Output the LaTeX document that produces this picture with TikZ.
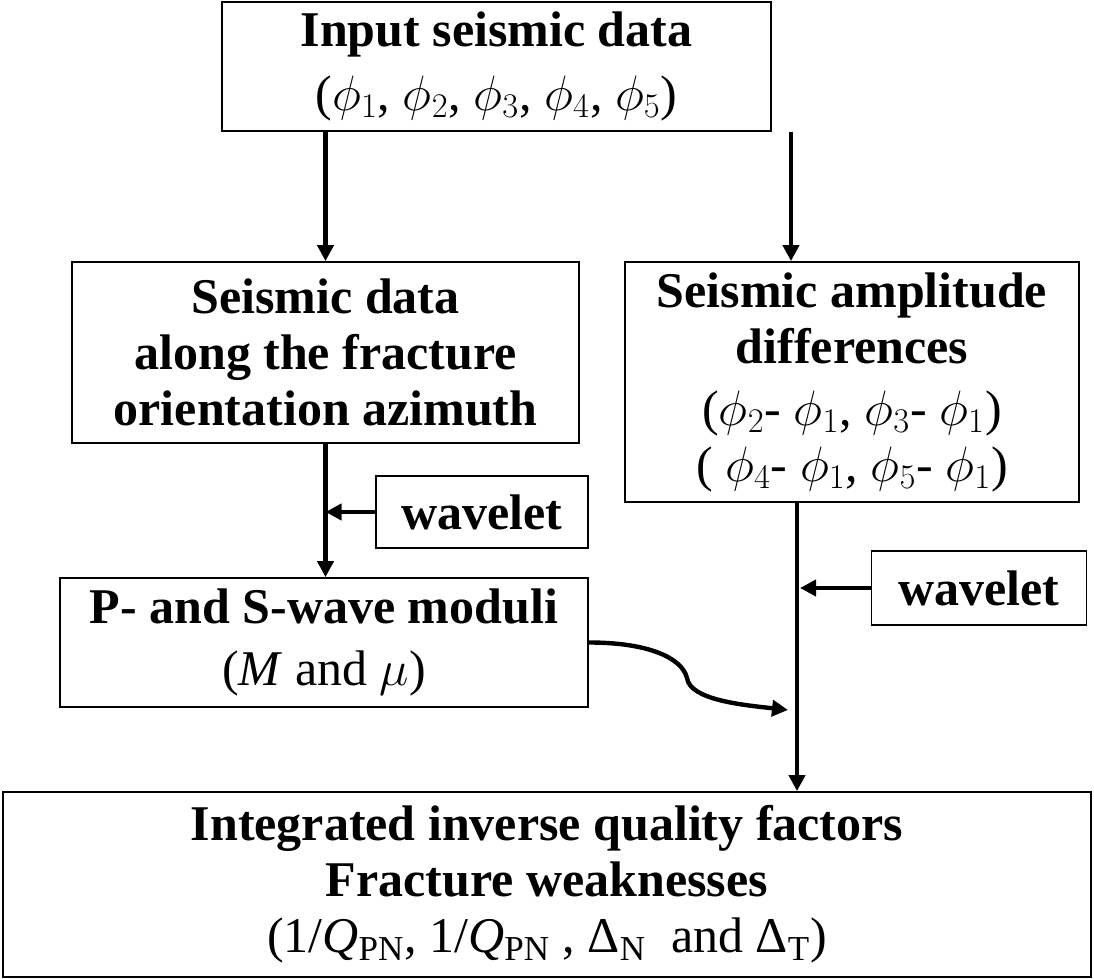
\documentclass[tikz,border=0pt]{standalone}
\usepackage{fontspec}
\setmainfont{Liberation Serif}
\usetikzlibrary{arrows.meta}

\tikzset{
  box/.style={draw, line width=0.9pt, inner sep=0pt, align=center,
    font=\fontsize{25}{28}\selectfont},
  flow/.style={line width=2.2pt, -{Triangle[length=8pt,width=8pt]}},
}

\begin{document}
\begin{tikzpicture}[x=0.5pt, y=-0.5pt]
    \useasboundingbox (0,0) rectangle (1094,979);

    % boxes
    \node[box, minimum width=274.5pt, minimum height=64.5pt] (in) at (496.5,66.5)
      {\textbf{Input seismic data}\\[4pt] (\(\phi_1\), \(\phi_2\), \(\phi_3\), \(\phi_4\), \(\phi_5\))};
    \node[box, minimum width=253.5pt, minimum height=90.5pt] (az) at (325.5,352.5)
      {\textbf{Seismic data}\\ \textbf{along the fracture}\\ \textbf{orientation azimuth}};
    \node[box, minimum width=227pt, minimum height=120pt] (amp) at (852,382)
      {\textbf{Seismic amplitude}\\ \textbf{differences}\\[3pt]
       (\(\phi_2\)- \(\phi_1\), \(\phi_3\)- \(\phi_1\))\\
       ( \(\phi_4\)- \(\phi_1\), \(\phi_5\)- \(\phi_1\))};
    \node[box, minimum width=106pt, minimum height=36pt] (wavA) at (482,512) {\textbf{wavelet}};
    \node[box, minimum width=264pt, minimum height=64.5pt] (mod) at (324,642.5)
      {\textbf{P- and S-wave moduli}\\[3pt] (\textit{M} and \(\mu\))};
    \node[box, minimum width=107.5pt, minimum height=37pt] (wavB) at (979,588) {\textbf{wavelet}};
    \node[box, minimum width=544pt, minimum height=92.5pt] (out) at (547,884.5)
      {\textbf{Integrated inverse quality factors}\\ \textbf{Fracture weaknesses}\\
       (1/\textit{Q}\textsubscript{PN}, 1/\textit{Q}\textsubscript{PN} , Δ\textsubscript{N}\ \ and Δ\textsubscript{T})};

    % connectors
    \draw[flow] (in.south -| az.north) -- (az.north);
    \draw[flow] (in.south -| 791,0) -- (amp.north -| 791,0);
    \draw[flow] (az.south) -- (az.south |- mod.north);
    \draw[flow] (wavA.west) -- (wavA.west -| az.south);
    \draw[flow] (amp.south -| 797,0) -- (out.north -| 797,0);
    \draw[flow] (wavB.west) -- ([xshift=1.5pt]wavB.west -| 797,0);

    \coordinate (join) at (788,710);
    \draw[flow] (mod.east) .. controls +(60,0) and +(-5,-20) .. (687,678)
      .. controls +(3,22) and +(-45,-5) .. (join);
\end{tikzpicture}
\end{document}
